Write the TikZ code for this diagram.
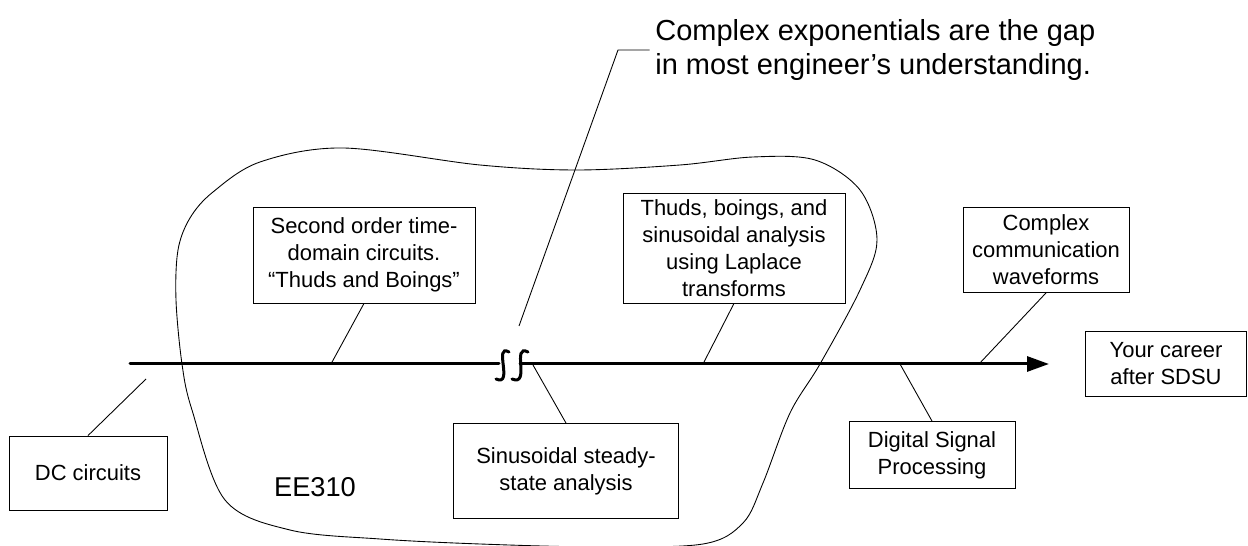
\documentclass[tikz,border=0pt]{standalone}
\usepackage{fontspec}
\setmainfont{Liberation Sans}
\usetikzlibrary{arrows.meta}

\newcommand{\boxfont}{\fontsize{12.5}{15.4}\selectfont}
\newcommand{\titlefont}{\fontsize{16.5}{19.9}\selectfont}
\newcommand{\coursefont}{\fontsize{15.5}{18}\selectfont}

\begin{document}
\begin{tikzpicture}[
          x=0.02cm, y=-0.02cm,
          topic/.style={draw, line width=0.5pt, align=center, font=\boxfont, inner sep=0pt},
          axis/.style={line width=0.06cm, line cap=round},
          callout/.style={line width=0.5pt},
          gapmark/.style={line width=0.06cm, line cap=round}
        ]
        \useasboundingbox (0,0) rectangle (1248,546);

        % the course region
        \draw[line width=0.5pt] plot[smooth cycle, tension=0.55] coordinates {
          (190,218) (213,192) (260,162) (343,148) (480,165) (577,170)
          (680,165) (753,157) (815,160) (860,190) (877,240) (860,290)
          (820,364) (790,413) (763,483) (743,523) (703,544) (600,547)
          (480,544) (380,539) (290,530) (225,500) (192,410) (182,364)
          (176,300) (178,250)};

        % time line
        \coordinate (axstart) at (130,364);
        \coordinate (brkleft) at (499,364);
        \coordinate (brkright) at (520,364);
        \coordinate (axend) at (1049,364);
        \draw[axis] (axstart) -- (brkleft);
        \draw[axis, -{Triangle[length=0.44cm, width=0.3cm]}] (brkright) -- (axend);
        \draw[gapmark] (509,352) .. controls (493,343) and (514,387) .. (496,379);
        \draw[gapmark] (528,352) .. controls (511,343) and (531,387) .. (512,379);

        % topics
        \node[topic, minimum width=3.16cm, minimum height=1.48cm] (dc) at (88,473) {DC circuits};
        \node[topic, minimum width=4.44cm, minimum height=1.92cm] (second) at (364,255)
          {Second order time-\\domain circuits.\\“Thuds and Boings”};
        \node[topic, minimum width=4.5cm, minimum height=1.9cm] (sinus) at (566,471)
          {Sinusoidal steady-\\state analysis};
        \node[topic, minimum width=4.44cm, minimum height=2.2cm] (laplace) at (734,248)
          {Thuds, boings, and\\sinusoidal analysis\\using Laplace\\transforms};
        \node[topic, minimum width=3.32cm, minimum height=1.34cm] (dsp) at (932,455)
          {Digital Signal\\Processing};
        \node[topic, minimum width=3.32cm, minimum height=1.7cm] (comm) at (1046,250)
          {Complex\\communication\\waveforms};
        \node[topic, minimum width=3.22cm, minimum height=1.3cm] (career) at (1166,364)
          {Your career\\after SDSU};
        \node[font=\coursefont] (course) at (315,487) {EE310};
        \node[font=\titlefont, align=left, anchor=west, inner sep=0pt] (gap) at (655,50)
          {Complex exponentials are the gap\\in most engineer’s understanding.};

        % callouts
        \coordinate (dctip) at (146,379);
        \coordinate (secondtip) at (331,364);
        \coordinate (sinustip) at (533,365);
        \coordinate (laplacetip) at (703,364);
        \coordinate (dsptip) at (900,364);
        \coordinate (commtip) at (979,364);
        \coordinate (gaptip) at (519,326);
        \coordinate (gapknee) at (618,50);
        \draw[callout] (dc.north) -- (dctip);
        \draw[callout] (second.south) -- (secondtip);
        \draw[callout] (sinus.north) -- (sinustip);
        \draw[callout] (laplace.south) -- (laplacetip);
        \draw[callout] (dsp.north) -- (dsptip);
        \draw[callout] (comm.south) -- (commtip);
        \draw[callout] (gaptip) -- (gapknee) -- ([xshift=-3]gap.west);
\end{tikzpicture}
\end{document}
